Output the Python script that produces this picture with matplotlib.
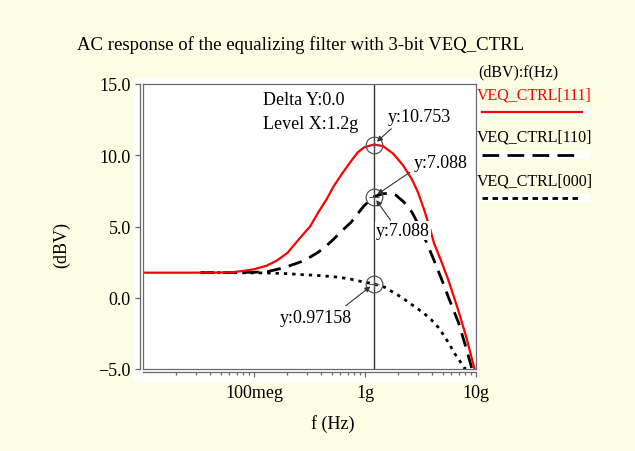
import numpy as np
import matplotlib.pyplot as plt
from matplotlib.patches import Rectangle
from matplotlib.lines import Line2D

plt.rcParams['font.family'] = ['Liberation Serif', 'DejaVu Serif']

# VEQ_CTRL[111]
freq_111 = [1e7, 3e7, 5e7, 6.5e7, 8e7, 1e8, 1.3e8, 1.6e8, 2e8, 2.6e8, 3.2e8, 3.8e8, 4.5e8,
            5.2e8, 6.2e8, 7.5e8, 8.6e8, 9.8e8, 1.2e9, 1.45e9, 1.8e9, 2.2e9, 2.65e9, 3e9,
            3.4e9, 3.8e9, 4.2e9, 4.9e9, 5.6e9, 6.3e9, 7e9, 8.2e9, 9.7e9]
dbv_111 = [1.76, 1.76, 1.77, 1.8, 1.88, 2.0, 2.25, 2.6, 3.15, 4.2, 5.0, 6.0, 6.9,
           7.8, 8.7, 9.6, 10.2, 10.55, 10.753, 10.65, 10.1, 9.3, 8.3, 7.4,
           6.2, 5.0, 3.8, 2.5, 1.3, 0.1, -1.0, -2.8, -5.0]

# VEQ_CTRL[110]
freq_110 = [3.3e7, 6.5e7, 1e8, 1.3e8, 1.85e8, 2.6e8, 3.2e8, 3.8e8, 4.5e8, 5.2e8, 6.2e8,
            7.5e8, 8.6e8, 9.8e8, 1.2e9, 1.45e9, 1.65e9, 1.9e9, 2.25e9, 2.65e9, 3e9,
            3.4e9, 3.8e9, 4.2e9, 4.9e9, 5.6e9, 6.3e9, 7e9, 8.2e9, 9.2e9]
dbv_110 = [1.76, 1.77, 1.79, 1.82, 2.1, 2.5, 2.85, 3.2, 3.65, 4.1, 4.7,
           5.3, 5.9, 6.45, 7.088, 7.3, 7.33, 7.2, 6.7, 6.0, 5.2,
           4.3, 3.4, 2.6, 1.3, 0.1, -0.9, -1.8, -3.6, -5.0]

# VEQ_CTRL[000]
freq_000 = [3.3e7, 6.5e7, 1.3e8, 2e8, 2.6e8, 3.8e8, 5.2e8, 6.5e8, 7.5e8, 9.1e8, 1.2e9,
            1.5e9, 1.97e9, 2.35e9, 2.77e9, 3.35e9, 3.96e9, 4.6e9, 5.2e9, 5.8e9, 6.4e9,
            7.1e9, 7.8e9, 8.1e9]
dbv_000 = [1.76, 1.76, 1.74, 1.69, 1.63, 1.56, 1.48, 1.38, 1.3, 1.15, 0.97158,
           0.74, 0.2, -0.2, -0.6, -1.05, -1.55, -2.1, -2.7, -3.3, -3.9,
           -4.4, -4.9, -5.0]

cursor_x = 1.2e9
cursor_vals = [10.753, 7.088, 0.97158]

xticks = [1e8, 1e9, 1e10]
xticklabels = ['100meg', '1g', '10g']
yticks = [-5, 0, 5, 10, 15]
yticklabels = ['\u22125.0', '0.0', '5.0', '10.0', '15.0']

W, H = 635, 452
bg = '#fdfde3'
grey = '#6a6a6a'

fig = plt.figure(figsize=(W / 100, H / 100), dpi=100, facecolor=bg)

def fx(px):
    return px / W

def fy(py):
    return 1 - py / H

# white panel behind the plot
fig.add_artist(Rectangle((fx(133), fy(383)), fx(479) - fx(133), fy(79) - fy(383),
                         transform=fig.transFigure, facecolor='white', edgecolor='none', zorder=-5))

ax = fig.add_axes([fx(143), fy(370), fx(476) - fx(143), fy(85) - fy(370)])
ax.set_xscale('log')
ax.set_xlim(1e7, 1e10)
ax.set_ylim(-5, 15)

ax.plot(freq_000, dbv_000, color='black', lw=2.0, linestyle=(0, (1.2, 1.8)), zorder=3)
ax.plot(freq_110, dbv_110, color='black', lw=2.0, linestyle=(0, (5, 3)), zorder=3)
ax.plot(freq_111, dbv_111, color='#ff0000', lw=1.6, zorder=4, solid_joinstyle='round')

# cursor
ax.axvline(cursor_x, color='#333333', lw=1.0, zorder=2)
for v in cursor_vals:
    ax.plot([cursor_x], [v], marker='o', ms=12, mfc='none', mec='#555555', mew=0.9, zorder=5)
    ax.plot([cursor_x], [v], marker='+', ms=7, mec='#555555', mew=0.8, zorder=5)

arrow = dict(arrowstyle='-|>', color='#333333', lw=0.8, mutation_scale=8, shrinkA=1, shrinkB=3)
fs = 13
ax.annotate('y:10.753', xy=(cursor_x, 10.753), xytext=(14, 28), textcoords='offset pixels',
            ha='left', va='center', fontsize=fs, arrowprops=dict(arrow, relpos=(0.12, 0.0)), zorder=6)
ax.annotate('y:7.088', xy=(cursor_x, 7.088), xytext=(40, 34), textcoords='offset pixels',
            ha='left', va='center', fontsize=fs, arrowprops=dict(arrow, relpos=(0.0, 0.1)), zorder=6)
ax.annotate('y:7.088', xy=(cursor_x, 7.088), xytext=(2, -34), textcoords='offset pixels',
            ha='left', va='center', fontsize=fs,
            bbox=dict(boxstyle='square,pad=0.05', fc='white', ec='none'),
            arrowprops=dict(arrow, relpos=(0.3, 1.0)), zorder=6)
ax.annotate('y:0.97158', xy=(cursor_x, 0.97158), xytext=(-58, -34), textcoords='offset pixels',
            ha='center', va='center', fontsize=fs, arrowprops=dict(arrow, relpos=(0.85, 1.0)), zorder=6)

ax.text(0.36, 0.947, 'Delta Y:0.0', transform=ax.transAxes, fontsize=fs, va='center', ha='left')
ax.text(0.36, 0.863, 'Level X:1.2g', transform=ax.transAxes, fontsize=fs, va='center', ha='left')

# frame: double line on left and bottom
for s in ax.spines.values():
    s.set_color(grey)
    s.set_linewidth(0.9)
ax.spines['left'].set_position(('outward', 2.4))
ax.spines['bottom'].set_position(('outward', 2.4))
ax.plot([0, 0], [0, 1], transform=ax.transAxes, color=grey, lw=0.9, clip_on=False, zorder=6)
ax.plot([0, 1], [0, 0], transform=ax.transAxes, color=grey, lw=0.9, clip_on=False, zorder=6)

ax.set_xticks(xticks)
ax.set_xticklabels(xticklabels)
ax.set_yticks(yticks)
ax.set_yticklabels(yticklabels)
ax.tick_params(axis='both', which='major', length=3.5, width=0.9, color=grey, labelsize=fs, pad=3)
ax.tick_params(axis='x', which='minor', length=2.5, width=0.9, color=grey)
ax.tick_params(axis='x', which='major', pad=5)

fig.text(fx(77), fy(45), 'AC response of the equalizing filter with 3-bit VEQ_CTRL',
         fontsize=13.5, ha='left', va='center')
fig.text(fx(62), fy(245), '(dBV)', rotation=90, fontsize=fs, ha='center', va='center')
fig.text(fx(333), fy(424), 'f (Hz)', fontsize=fs, ha='center', va='center')

# legend
lfs = 11.5
fig.text(fx(478), fy(72), '(dBV):f(Hz)', fontsize=lfs, ha='left', va='center')
entries = [('VEQ_CTRL[111]', '#ff0000', '-', 1.6, 95),
           ('VEQ_CTRL[110]', 'black', (0, (6, 3)), 2.0, 138),
           ('VEQ_CTRL[000]', 'black', (0, (2, 1.6)), 2.0, 181)]
for name, col, ls, lw, ty in entries:
    fig.text(fx(477), fy(ty), name, fontsize=lfs, color=col, ha='left', va='center')
    ly = ty + 17.5
    fig.add_artist(Rectangle((fx(478), fy(ly + 4)), fx(590) - fx(478), fy(ly - 4) - fy(ly + 4),
                             transform=fig.transFigure, facecolor='white', edgecolor='none'))
    fig.add_artist(Line2D([fx(482), fx(582)], [fy(ly), fy(ly)], transform=fig.transFigure,
                          color=col, lw=lw, linestyle=ls))

fig.savefig('out.png', dpi=100, facecolor=bg)
